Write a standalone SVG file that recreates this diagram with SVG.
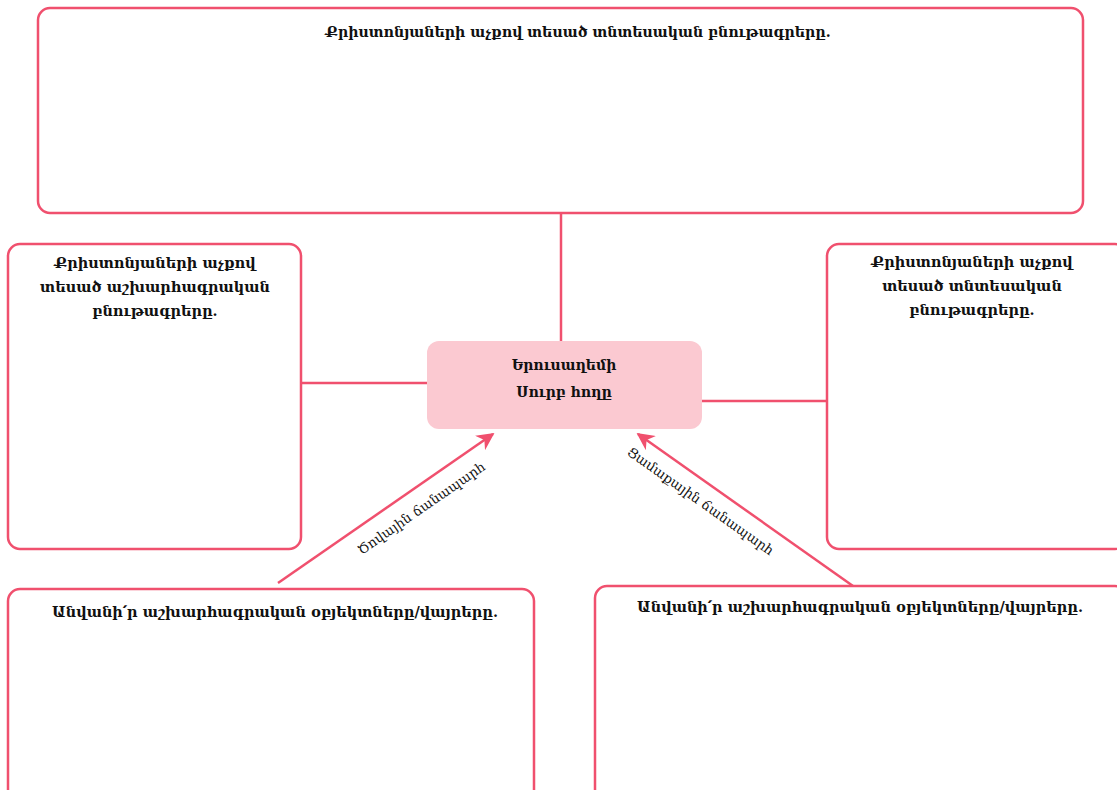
<svg xmlns="http://www.w3.org/2000/svg" width="1117" height="790" viewBox="0 0 1117 790">
<defs>
<style>
.box{fill:#fff;stroke:#f0506e;stroke-width:2.5}
.ln{stroke:#f0506e;stroke-width:2.5;fill:none}
.t{font-family:"DejaVu Serif","Noto Serif",serif;font-size:14.5px;font-weight:bold;fill:#111;text-anchor:middle}
.h{font-family:"DejaVu Serif","Noto Serif",serif;font-size:14.2px;font-weight:bold;fill:#111;text-anchor:middle}
.c{font-family:"DejaVu Serif","Noto Serif",serif;font-size:14px;font-weight:bold;fill:#111;text-anchor:middle}
.b{font-family:"DejaVu Serif","Noto Serif",serif;font-size:14.5px;font-weight:bold;fill:#111;text-anchor:middle}
.l{font-family:"DejaVu Serif","Noto Serif",serif;font-size:13.4px;fill:#111;text-anchor:middle}
</style>
<marker id="ah" viewBox="0 0 10 10" refX="9" refY="5" markerWidth="7" markerHeight="7" orient="auto" markerUnits="strokeWidth">
<path d="M0,0 L10,5 L0,10 L3,5 z" fill="#f0506e"/>
</marker>
</defs>
<rect width="1117" height="790" fill="#fff"/>
<g id="connectors">
<line class="ln" x1="561" y1="213" x2="561" y2="341"/>
<line class="ln" x1="301" y1="383" x2="427" y2="383"/>
<line class="ln" x1="702" y1="401" x2="827" y2="401"/>
<line class="ln" x1="278" y1="583" x2="493" y2="434" marker-end="url(#ah)"/>
<line class="ln" x1="853" y1="586" x2="638" y2="434" marker-end="url(#ah)"/>
<text class="l" transform="translate(424,512) rotate(-34.7)">Ծովային ճանապարհ</text>
<text class="l" transform="translate(698,505) rotate(35.3)">Ցամաքային ճանապարհ</text>
</g>
<g id="top">
<rect class="box" x="38" y="8" width="1045" height="205" rx="12"/>
<text class="h" x="578" y="37">Քրիստոնյաների աչքով տեսած տնտեսական բնութագրերը.</text>
</g>
<g id="left">
<rect class="box" x="8" y="244" width="293" height="305" rx="12"/>
<text class="t" x="155" y="268">Քրիստոնյաների աչքով</text>
<text class="t" x="155" y="292">տեսած աշխարհագրական</text>
<text class="t" x="155" y="316">բնութագրերը.</text>
</g>
<g id="right">
<rect class="box" x="827" y="244" width="300" height="305" rx="12"/>
<text class="t" x="972" y="267">Քրիստոնյաների աչքով</text>
<text class="t" x="972" y="291">տեսած տնտեսական</text>
<text class="t" x="972" y="315">բնութագրերը.</text>
</g>
<g id="center">
<rect x="427" y="341" width="275" height="88" rx="12" fill="#fbc9d1"/>
<text class="c" x="564" y="370">Երուսաղեմի</text>
<text class="c" x="564" y="397">Սուրբ հողը</text>
</g>
<g id="bottom-left">
<rect class="box" x="8" y="589" width="526" height="215" rx="12"/>
<text class="b" x="275" y="617">Անվանի՛ր աշխարհագրական օբյեկտները/վայրերը.</text>
</g>
<g id="bottom-right">
<rect class="box" x="595" y="586" width="532" height="215" rx="12"/>
<text class="b" x="860" y="612">Անվանի՛ր աշխարհագրական օբյեկտները/վայրերը.</text>
</g>
</svg>
